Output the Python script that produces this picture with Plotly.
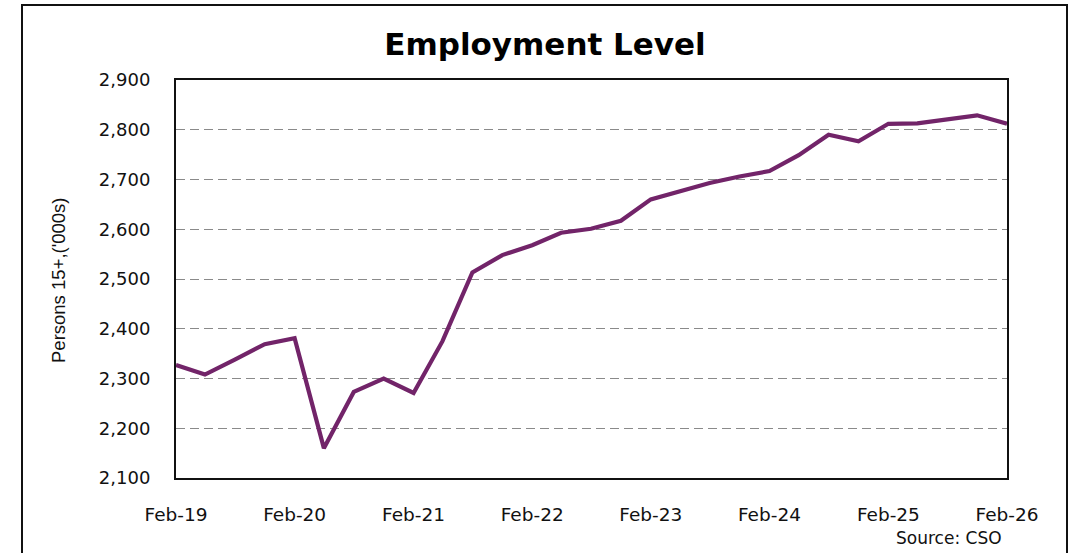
import plotly.graph_objects as go
import pandas as pd

dates = pd.date_range("2019-02-01", "2026-02-01", freq="3MS")
employment = [2327, 2308, 2338, 2369, 2381, 2160, 2273, 2300, 2271, 2375,
              2513, 2548, 2568, 2593, 2601, 2617, 2660, 2676, 2693, 2706,
              2717, 2749, 2790, 2777, 2812, 2813, 2822, 2829, 2812]
tick_dates = pd.date_range("2019-02-01", "2026-02-01", freq="12MS")
tick_labels = ["Feb-19", "Feb-20", "Feb-21", "Feb-22", "Feb-23", "Feb-24", "Feb-25", "Feb-26"]
y_ticks = [2100, 2200, 2300, 2400, 2500, 2600, 2700, 2800, 2900]

# plot area targeted at page x 176-1007, y 80-478 (body margin removed in post_script)
PL, PR, PT, PB = 176, 1007, 80, 478
W = PR - PL
H = PB - PT

def px(x):
    return (x - PL) / W

def py(y):
    return (PB - y) / H

fig = go.Figure()
fig.add_trace(go.Scatter(x=dates, y=employment, mode="lines",
                         line=dict(color="#722469", width=4.2), showlegend=False,
                         cliponaxis=False, hoverinfo="skip"))

fig.update_layout(
    width=1074, height=553,
    margin=dict(l=PL, r=1074 - PR, t=PT, b=553 - PB),
    paper_bgcolor="white", plot_bgcolor="white",
    font=dict(family="DejaVu Sans, Arial, sans-serif", color="#111", size=18),
    title=dict(text="<b>Employment Level</b>", x=545 / 1074, xref="container", xanchor="center",
               y=1 - 44 / 553, yref="container", yanchor="middle",
               font=dict(size=31, color="#000", family="DejaVu Sans, Arial, sans-serif")),
    xaxis=dict(type="date", range=[dates[0], dates[-1]], tickvals=tick_dates, ticktext=tick_labels,
               showgrid=False, showline=True, linecolor="#111", linewidth=2, mirror=True,
               ticks="", ticklabelstandoff=19, tickfont=dict(size=18.5), zeroline=False),
    yaxis=dict(range=[2100, 2900], tickvals=y_ticks, tickformat=",",
               showgrid=True, gridcolor="#8a8a8a", griddash="9px,5px", gridwidth=1.4,
               showline=True, linecolor="#111", linewidth=2, mirror=True,
               ticks="", ticklabelstandoff=20, tickfont=dict(size=18), zeroline=False),
)

# y-axis title
fig.add_annotation(text="Persons 15+,('000s)", xref="paper", yref="paper",
                   x=px(58), y=py(280), xanchor="center", yanchor="middle", textangle=-90,
                   showarrow=False,
                   font=dict(family="Liberation Sans, Arial, sans-serif", size=18.5, color="#111"))

# outer frame
fig.add_shape(type="rect", xref="paper", yref="paper",
              x0=px(22), x1=px(1067), y0=py(600), y1=py(5),
              line=dict(color="#111", width=2), fillcolor="rgba(0,0,0,0)", layer="below")

fig.add_annotation(text="Source: CSO", xref="paper", yref="paper",
                   x=px(1004), y=py(538), xanchor="right", yanchor="middle",
                   showarrow=False, font=dict(size=17, color="#111"))

fig.write_html("out.html", config={"displayModeBar": False},
               post_script="document.body.style.margin='0';document.body.style.overflow='hidden';")
